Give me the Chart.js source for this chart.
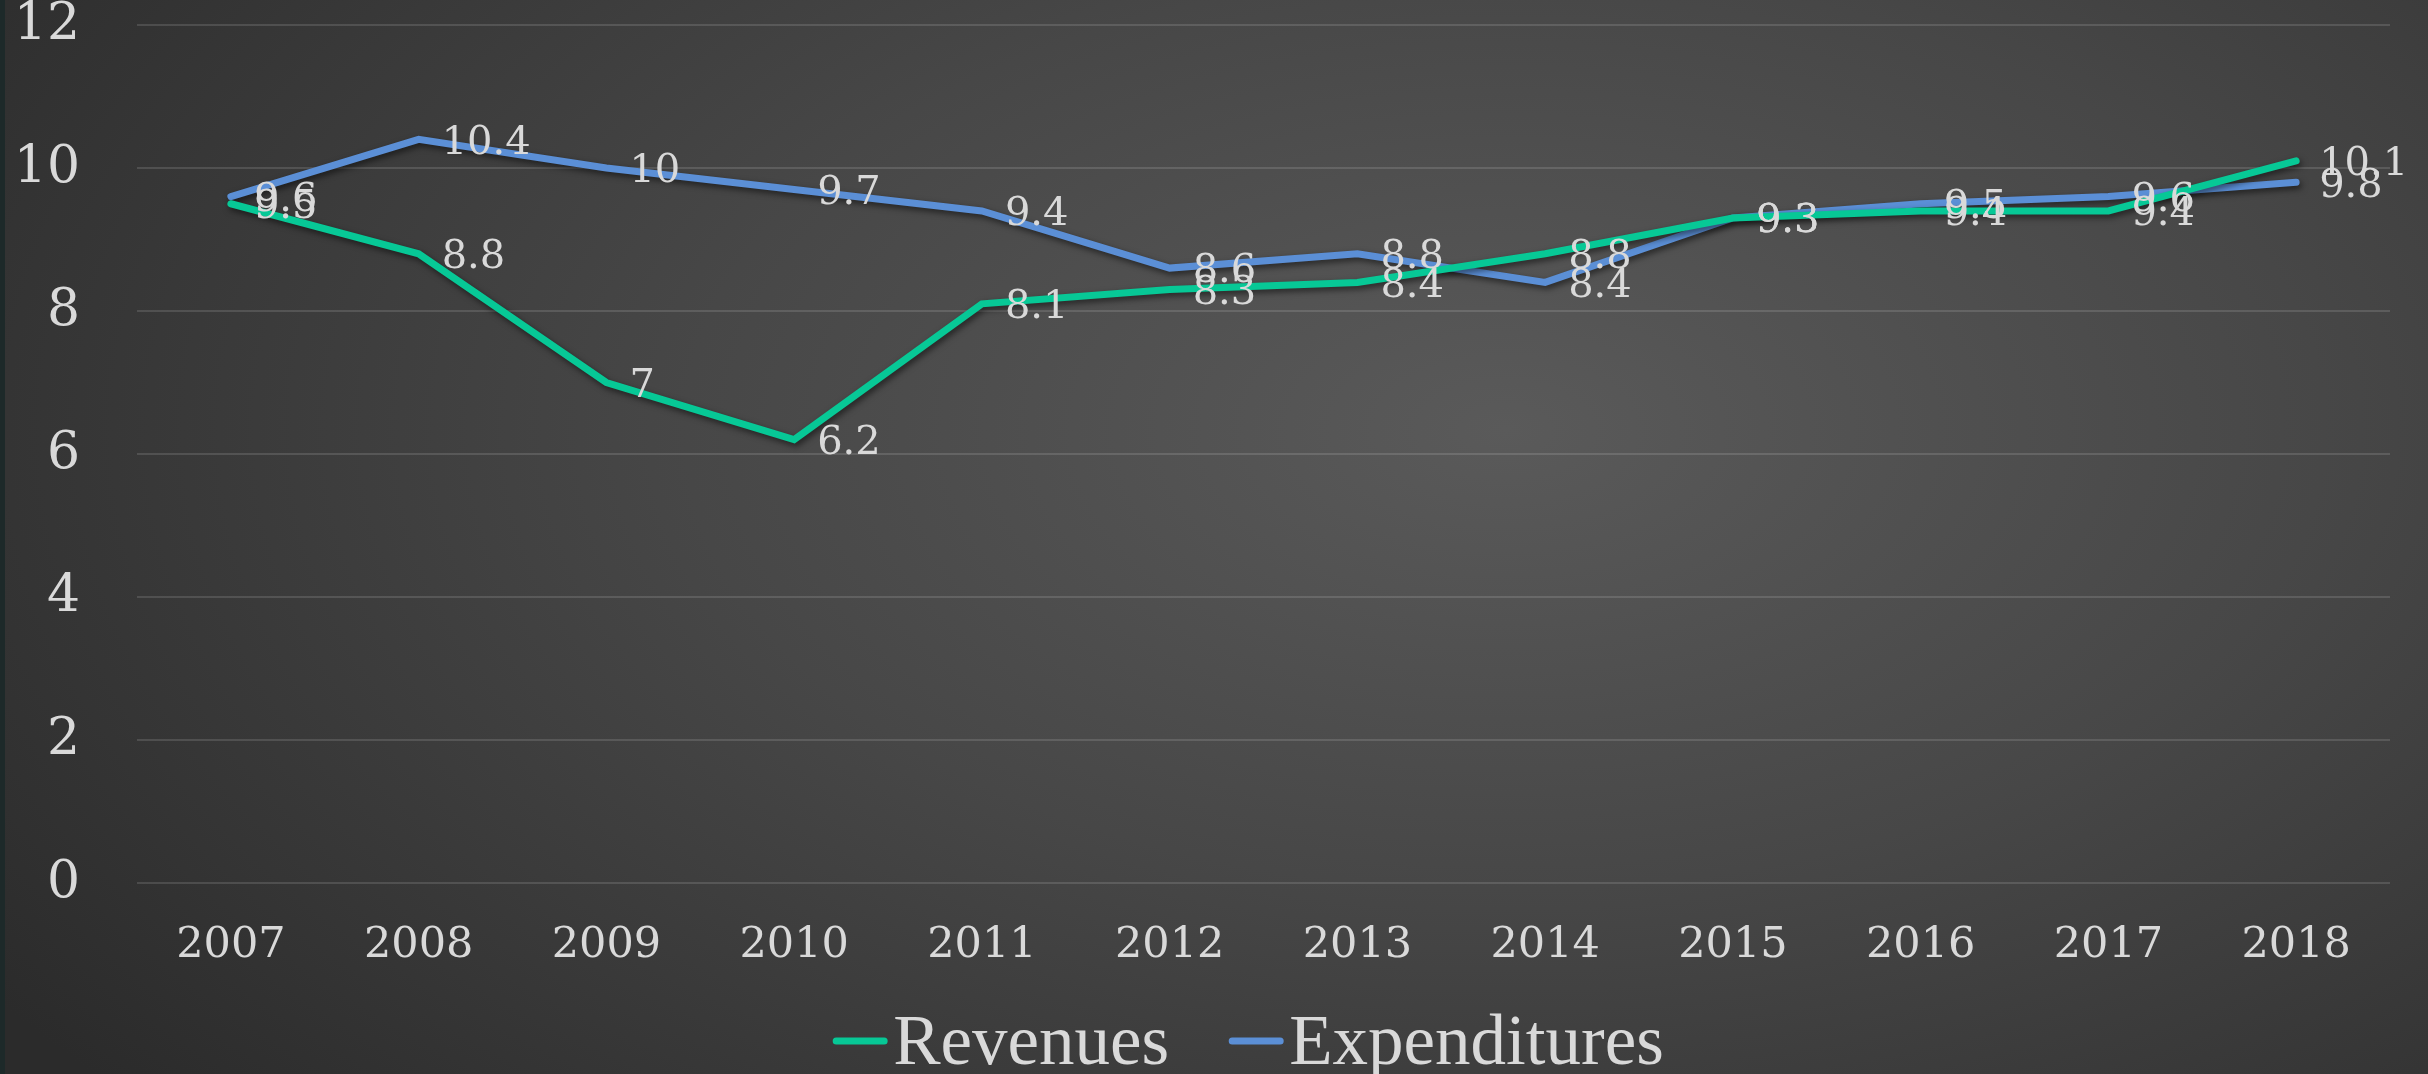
<!DOCTYPE html>
<html>
<head>
<meta charset="utf-8">
<title>Revenues and Expenditures</title>
<script src="https://cdn.jsdelivr.net/npm/chart.js@4.4.1/dist/chart.umd.min.js"></script>
<style>
    html, body { margin: 0; padding: 0; }
    body {
        width: 2428px;
        height: 1074px;
        overflow: hidden;
        background: radial-gradient(ellipse 75% 95% at 62% 40%, #5a5a5a 0%, #474747 45%, #2b2b2b 100%);
    }
    #edge { position: absolute; left: 0; top: 0; width: 5px; height: 1074px; background: #1d2929; }
    #wrap { position: absolute; left: 0; top: 0; width: 2428px; height: 1074px; }
</style>
</head>
<body>
<div id="edge"></div>
<div id="wrap"><canvas id="budgetChart"></canvas></div>
<script>
// Data
const years = ['2007', '2008', '2009', '2010', '2011', '2012', '2013', '2014', '2015', '2016', '2017', '2018'];
const revenues = [9.5, 8.8, 7, 6.2, 8.1, 8.3, 8.4, 8.8, 9.3, 9.4, 9.4, 10.1];
const expenditures = [9.6, 10.4, 10, 9.7, 9.4, 8.6, 8.8, 8.4, 9.3, 9.5, 9.6, 9.8];
const yMin = 0;
const yMax = 12;
const yStep = 2;

const TEXT_COLOR = '#d9d9d9';
const GREEN = '#07c896';
const BLUE = '#5b8fd6';

// Soft drop shadow under each line
const lineShadow = {
    id: 'lineShadow',
    beforeDatasetDraw(chart) {
        const ctx = chart.ctx;
        ctx.save();
        ctx.shadowColor = 'rgba(0, 0, 0, 0.55)';
        ctx.shadowBlur = 6;
        ctx.shadowOffsetX = 2;
        ctx.shadowOffsetY = 3;
    },
    afterDatasetDraw(chart) {
        chart.ctx.restore();
    }
};

// Value labels to the right of every point
const valueLabels = {
    id: 'valueLabels',
    afterDatasetsDraw(chart) {
        const ctx = chart.ctx;
        ctx.save();
        ctx.font = '40px "DejaVu Serif"';
        ctx.fillStyle = TEXT_COLOR;
        ctx.textAlign = 'left';
        ctx.textBaseline = 'middle';
        chart.data.datasets.forEach((ds, i) => {
            const meta = chart.getDatasetMeta(i);
            meta.data.forEach((pt, j) => {
                ctx.fillText(String(ds.data[j]), pt.x + 23, pt.y + 4);
            });
        });
        ctx.restore();
    }
};

// Legend: short line followed closely by the series name
const bottomLegend = {
    id: 'bottomLegend',
    afterDraw(chart) {
        const ctx = chart.ctx;
        const lineLen = 56;
        const gapText = 5;
        const gapItem = 59;
        ctx.save();
        ctx.font = '71px "Liberation Serif"';
        const items = chart.data.datasets.map(ds => ({
            label: ds.label,
            color: ds.borderColor,
            w: ctx.measureText(ds.label).width
        }));
        let total = 0;
        items.forEach((it, i) => {
            total += lineLen + gapText + it.w + (i ? gapItem : 0);
        });
        let x = 1248 - total / 2;
        const y = 1041;
        items.forEach(it => {
            ctx.strokeStyle = it.color;
            ctx.lineWidth = 7;
            ctx.lineCap = 'round';
            ctx.beginPath();
            ctx.moveTo(x + 4, y);
            ctx.lineTo(x + lineLen - 4, y);
            ctx.stroke();
            ctx.fillStyle = TEXT_COLOR;
            ctx.textAlign = 'left';
            ctx.textBaseline = 'alphabetic';
            ctx.fillText(it.label, x + lineLen + gapText, 1064);
            x += lineLen + gapText + it.w + gapItem;
        });
        ctx.restore();
    }
};

function initChart() {
    const ctx = document.getElementById('budgetChart').getContext('2d');

    new Chart(ctx, {
        type: 'line',
        data: {
            labels: years,
            datasets: [{
                label: 'Revenues',
                data: revenues,
                borderColor: GREEN,
                backgroundColor: GREEN,
                borderWidth: 7,
                borderCapStyle: 'round',
                pointRadius: 0,
                tension: 0,
                fill: false
            }, {
                label: 'Expenditures',
                data: expenditures,
                borderColor: BLUE,
                backgroundColor: BLUE,
                borderWidth: 7,
                borderCapStyle: 'round',
                pointRadius: 0,
                tension: 0,
                fill: false
            }]
        },
        options: {
            responsive: true,
            maintainAspectRatio: false,
            animation: false,
            layout: {
                padding: { top: 25, right: 38, bottom: 0, left: 0 }
            },
            plugins: {
                legend: { display: false },
                tooltip: { enabled: false }
            },
            scales: {
                x: {
                    offset: true,
                    grid: { display: false, drawTicks: false },
                    border: { display: false },
                    ticks: {
                        color: TEXT_COLOR,
                        font: { family: 'DejaVu Serif', size: 43, lineHeight: 1.2 },
                        padding: 37,
                        maxRotation: 0,
                        autoSkip: false
                    },
                    afterFit(scale) {
                        scale.height = 191;
                    }
                },
                y: {
                    min: yMin,
                    max: yMax,
                    ticks: {
                        stepSize: yStep,
                        color: TEXT_COLOR,
                        font: { family: 'DejaVu Serif', size: 52, lineHeight: 1 },
                        padding: 57
                    },
                    grid: {
                        color: 'rgba(255, 255, 255, 0.13)',
                        lineWidth: 2,
                        drawTicks: false
                    },
                    border: { display: false },
                    afterFit(scale) {
                        // tick padding also pads top/bottom; keep only the half label height
                        scale.width = 137;
                        scale.paddingTop = 20;
                        scale.paddingBottom = 20;
                    }
                }
            }
        },
        plugins: [lineShadow, valueLabels, bottomLegend]
    });
}

document.addEventListener('DOMContentLoaded', initChart);
</script>
</body>
</html>
